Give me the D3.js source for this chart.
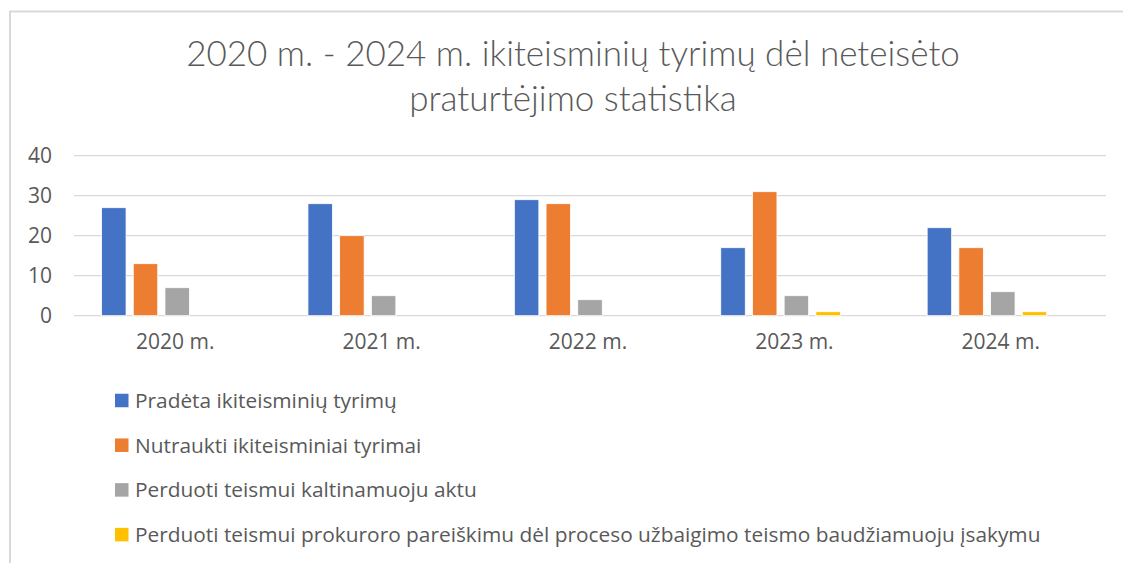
<!DOCTYPE html>
<html>
<head>
<meta charset="utf-8">
<script src="https://cdn.jsdelivr.net/npm/d3@7"></script>
<style>
  html, body { margin: 0; padding: 0; background: #fff; }
  svg { display: block; }
  text { font-family: "Open Sans", Lato, sans-serif; fill: #595959; }
</style>
</head>
<body>
<svg id="chart" width="1123" height="563"></svg>
<script>
const categories = ["2020 m.", "2021 m.", "2022 m.", "2023 m.", "2024 m."];
const seriesNames = [
  "Pradėta ikiteisminių tyrimų",
  "Nutraukti ikiteisminiai tyrimai",
  "Perduoti teismui kaltinamuoju aktu",
  "Perduoti teismui prokuroro pareiškimu dėl proceso užbaigimo teismo baudžiamuoju įsakymu"
];
const pradeta   = [27, 28, 29, 17, 22];
const nutraukti = [13, 20, 28, 31, 17];
const kaltinamuoju = [7, 5, 4, 5, 6];
const prokuroro = [0, 0, 0, 1, 1];
const seriesValues = [pradeta, nutraukti, kaltinamuoju, prokuroro];
const colors = ["#4472C4", "#ED7D31", "#A5A5A5", "#FFC000"];
const yTicks = [0, 10, 20, 30, 40];
const titleLines = ["2020 m. - 2024 m. ikiteisminių tyrimų dėl neteisėto", "praturtėjimo statistika"];

const svg = d3.select("#chart");

// chart frame (extends past right/bottom edges)
svg.append("path")
  .attr("d", "M10,1000 L10,11.5 L1200,11.5")
  .attr("fill", "none").attr("stroke", "#d9d9d9").attr("stroke-width", 2);

const plot = { left: 74, right: 1106, top: 155.7, bottom: 315.7 };

const y = d3.scaleLinear().domain([0, 40]).range([plot.bottom, plot.top]);
const x0 = d3.scaleBand().domain(categories).range([plot.left, plot.right])
  .paddingInner(0.267).paddingOuter(0.1335);
// 5 slots per cluster (the 5th slot is empty in the source chart)
const slots = d3.range(5);
const x1 = d3.scaleBand().domain(slots).range([0, x0.bandwidth()]).paddingInner(0.227);

// gridlines
svg.append("g").selectAll("line").data(yTicks).join("line")
  .attr("x1", plot.left).attr("x2", plot.right)
  .attr("y1", d => y(d)).attr("y2", d => y(d))
  .attr("stroke", "#d9d9d9").attr("stroke-width", 1.3);

// y axis labels
const yAxis = d3.axisLeft(y).tickValues(yTicks).tickSize(0).tickPadding(0);
const yg = svg.append("g").attr("transform", "translate(52,0)").call(yAxis);
yg.select(".domain").remove();
yg.selectAll("text").style("font-size", "21px").attr("fill", "#595959")
  .style("font-family", "'Open Sans', sans-serif");

// x axis labels
const xAxis = d3.axisBottom(x0).tickSize(0).tickPadding(0);
const xg = svg.append("g").attr("transform", `translate(-2,${plot.bottom + 18})`).call(xAxis);
xg.select(".domain").remove();
xg.selectAll("text").style("font-size", "21px").attr("fill", "#595959")
  .style("font-family", "'Open Sans', sans-serif");

// bars
const groups = svg.append("g").selectAll("g").data(categories).join("g")
  .attr("transform", d => `translate(${x0(d)},0)`);
groups.selectAll("rect")
  .data((c, ci) => seriesValues.map((vals, si) => ({ si, v: vals[ci] })))
  .join("rect")
  .filter(d => d.v > 0)
  .attr("x", d => x1(d.si))
  .attr("width", x1.bandwidth())
  .attr("y", d => y(d.v))
  .attr("height", d => y(0) - y(d.v))
  .attr("fill", d => colors[d.si])
  .attr("stroke", "#fff").attr("stroke-width", 0.8);

// title
svg.append("text")
  .attr("x", 573).attr("y", 66)
  .attr("text-anchor", "middle")
  .style("font-family", "Lato, sans-serif")
  .style("font-size", "35px").style("font-weight", 300)
  .selectAll("tspan").data(titleLines).join("tspan")
  .attr("x", 573).attr("dy", (d, i) => i === 0 ? 0 : 45)
  .text(d => d);

// legend
const legend = svg.append("g").selectAll("g").data(seriesNames).join("g")
  .attr("transform", (d, i) => `translate(115,${400.5 + i * 44.7})`);
legend.append("rect").attr("x", 0).attr("y", -6.75).attr("width", 13.5).attr("height", 13.5)
  .attr("fill", (d, i) => colors[i]);
legend.append("text").attr("x", 20).attr("y", 0).attr("dy", "0.36em")
  .style("font-size", "20.85px").text(d => d);
</script>
</body>
</html>
